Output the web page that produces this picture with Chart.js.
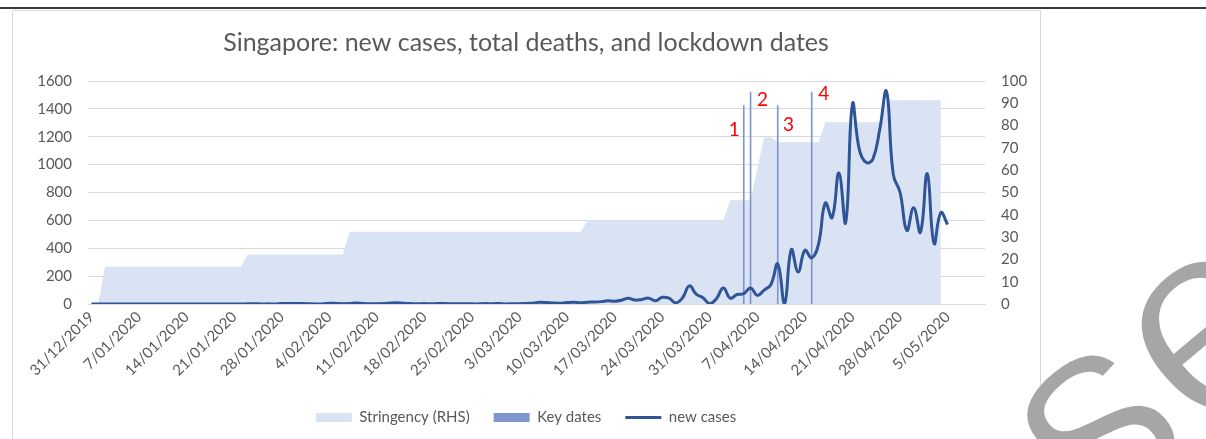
<!DOCTYPE html>
<html>
<head>
<meta charset="utf-8">
<title>Singapore: new cases, total deaths, and lockdown dates</title>
<script src="https://cdn.jsdelivr.net/npm/chart.js@4.4.1/dist/chart.umd.min.js"></script>
<style>
  html, body { margin: 0; padding: 0; background: #fff; }
  canvas { display: block; }
</style>
</head>
<body>
<canvas id="chart" width="1206" height="439"></canvas>
<script>
// data
const startDate = [2019, 11, 31];   // 31/12/2019, one category per day
const dayCount = 132;               // axis runs a few days past the data

const newCases = [
    0, 0, 0, 0, 0, 0, 0, 0, 0, 0, 0, 0, 0, 0, 0, 0, 0, 0, 0, 0, 0, 0, 0,
    1, 2, 0, 1, 0, 3, 3, 3, 3, 2, 0, 0, 6, 4, 2, 3, 7, 3, 2, 2, 3, 8, 9, 5,
    3, 2, 3, 1, 3, 3, 1, 2, 1, 1, 1, 3, 2, 4, 0, 2, 2, 4, 6, 12, 10, 7, 6,
    10, 12, 9, 13, 14, 17, 23, 20, 27, 42, 28, 33, 42, 24, 48, 42, 8, 45,
    130, 70, 45, 2, 40, 115, 42, 68, 75, 115, 62, 100, 140, 287, 0, 390,
    230, 385, 330, 430, 725, 620, 940, 585, 1435, 1110, 1016, 1040, 1250,
    1525, 930, 800, 528, 690, 515, 935, 435, 655, 570
];

const stringency = [
    0, 0,
    16.67, 16.67, 16.67, 16.67, 16.67, 16.67, 16.67, 16.67, 16.67, 16.67, 16.67,
    16.67, 16.67, 16.67, 16.67, 16.67, 16.67, 16.67, 16.67, 16.67, 16.67,
    22.22, 22.22, 22.22, 22.22, 22.22, 22.22, 22.22, 22.22, 22.22, 22.22,
    22.22, 22.22, 22.22, 22.22, 22.22,
    32.41, 32.41, 32.41, 32.41, 32.41, 32.41, 32.41, 32.41, 32.41, 32.41,
    32.41, 32.41, 32.41, 32.41, 32.41, 32.41, 32.41, 32.41, 32.41, 32.41,
    32.41, 32.41, 32.41, 32.41, 32.41, 32.41, 32.41, 32.41, 32.41, 32.41,
    32.41, 32.41, 32.41, 32.41, 32.41,
    37.5, 37.5, 37.5, 37.5, 37.5, 37.5, 37.5, 37.5, 37.5, 37.5, 37.5,
    37.5, 37.5, 37.5, 37.5, 37.5, 37.5, 37.5, 37.5, 37.5, 37.5,
    46.5, 46.5, 46.5, 46.5,
    60.8,
    74.8, 74.8,
    72.5, 72.5, 72.5, 72.5, 72.5, 72.5, 72.5,
    81.5, 81.5, 81.5, 81.5, 81.5, 81.5, 81.5, 81.5, 81.5,
    91.4, 91.4, 91.4, 91.4, 91.4, 91.4, 91.4, 91.4, 91.4
];

// key dates: day index from 31/12/2019 and bar height on the right axis
const keyDateDays = [96, 97, 101, 106];
const keyDateHeights = [89, 95, 89, 95];
const keyDateNames = ['1', '2', '3', '4'];

const leftTicks = [0, 1600, 200];
const rightTicks = [0, 100, 10];

// category labels d/mm/yyyy
const labels = [];
for (let i = 0; i < dayCount; i++) {
    const d = new Date(startDate[0], startDate[1], startDate[2] + i);
    labels.push(d.getDate() + '/' + String(d.getMonth() + 1).padStart(2, '0') + '/' + d.getFullYear());
}

const keyDates = labels.map(() => null);
keyDateDays.forEach((day, i) => { keyDates[day] = keyDateHeights[i]; });

const grey = '#595959';
const font = 'Lato';

// white page, top rule and chart frame
const framePlugin = {
    id: 'frame',
    beforeDraw(chart) {
        const c = chart.ctx;
        c.save();
        c.fillStyle = '#fff';
        c.fillRect(0, 0, chart.width, chart.height);
        c.strokeStyle = '#d9d9d9';
        c.lineWidth = 1;
        c.beginPath();
        c.moveTo(12.5, chart.height);
        c.lineTo(12.5, 10.5);
        c.lineTo(1040.5, 10.5);
        c.lineTo(1040.5, chart.height);
        c.stroke();
        c.strokeStyle = '#3a3a3a';
        c.lineWidth = 2;
        c.beginPath();
        c.moveTo(0, 8);
        c.lineTo(chart.width, 8);
        c.stroke();
        c.restore();
    },
    afterDraw(chart) {
        // grey watermark, thinned on its own layer
        const layer = document.createElement('canvas');
        layer.width = chart.width;
        layer.height = chart.height;
        const w = layer.getContext('2d');
        w.translate(1094, 532);
        w.rotate(-40 * Math.PI / 180);
        w.font = '280px "Liberation Sans"';
        w.fillStyle = '#a6a6a6';
        w.fillText('se', 0, 0);
        w.globalCompositeOperation = 'destination-out';
        w.lineWidth = 5;
        w.strokeText('se', 0, 0);
        chart.ctx.drawImage(layer, 0, 0);
    }
};

// red numbers beside the key-date lines
const keyLabelPlugin = {
    id: 'keyLabels',
    afterDatasetsDraw(chart, args, opts) {
        const c = chart.ctx;
        const xs = chart.scales.x, ys = chart.scales.y1;
        c.save();
        c.fillStyle = '#ff0000';
        c.font = '19px ' + font;
        c.textAlign = 'center';
        c.textBaseline = 'middle';
        keyDateDays.forEach((day, i) => {
            const x = xs.getPixelForValue(day) + opts.dx[i];
            const y = ys.getPixelForValue(opts.at[i]);
            c.fillText(keyDateNames[i], x, y);
        });
        c.restore();
    }
};

new Chart(document.getElementById('chart'), {
    data: {
        labels: labels,
        datasets: [{
            type: 'line',
            label: 'new cases',
            data: newCases,
            yAxisID: 'y',
            borderColor: '#2f5597',
            backgroundColor: '#2f5597',
            borderWidth: 3,
            pointRadius: 0,
            pointStyle: 'line',
            tension: 0.45,
            order: 0
        }, {
            type: 'bar',
            label: 'Key dates',
            data: keyDates,
            yAxisID: 'y1',
            backgroundColor: '#8096cf',
            borderWidth: 0,
            barThickness: 1,
            pointStyle: 'rect',
            order: 1
        }, {
            type: 'line',
            label: 'Stringency (RHS)',
            data: stringency,
            yAxisID: 'y1',
            borderWidth: 0,
            borderColor: 'rgba(0,0,0,0)',
            backgroundColor: '#dae3f3',
            fill: 'origin',
            pointRadius: 0,
            pointStyle: 'rect',
            tension: 0,
            order: 2
        }]
    },

    options: {
        responsive: false,
        animation: false,
        devicePixelRatio: 1,
        layout: {
            padding: { left: 12, right: 166, top: 10, bottom: 4 }
        },
        plugins: {
            title: {
                display: true,
                text: 'Singapore: new cases, total deaths, and lockdown dates',
                color: grey,
                font: { family: font, size: 25, weight: 'normal' },
                padding: { top: 18, bottom: 23 }
            },
            legend: {
                position: 'bottom',
                reverse: true,
                labels: {
                    usePointStyle: true,
                    pointStyleWidth: 36,
                    boxHeight: 9,
                    padding: 24,
                    color: grey,
                    font: { family: font, size: 15 }
                }
            },
            tooltip: { enabled: false },
            keyLabels: {
                dx: [-9.5, 12, 10.7, 12],
                at: [78, 91.4, 80.4, 94.1]
            }
        },
        scales: {
            x: {
                type: 'category',
                offset: true,
                grid: { display: false, drawTicks: false },
                border: { display: true, color: '#d9d9d9' },
                ticks: {
                    autoSkip: false,
                    minRotation: 45,
                    maxRotation: 45,
                    padding: 4,
                    color: grey,
                    font: { family: font, size: 15 },
                    callback: (v, i) => (i % 7 === 0 ? labels[i] : '')
                },
                afterFit: s => { s.height = 82; }
            },
            y: {
                position: 'left',
                min: leftTicks[0],
                max: leftTicks[1],
                grid: { color: '#d9d9d9', drawTicks: false },
                border: { display: false },
                ticks: {
                    stepSize: leftTicks[2],
                    padding: 16,
                    color: grey,
                    font: { family: font, size: 15 },
                    callback: v => String(v)
                },
                afterFit: s => { s.width = 76; }
            },
            y1: {
                position: 'right',
                min: rightTicks[0],
                max: rightTicks[1],
                grid: { display: false, drawTicks: false },
                border: { display: false },
                ticks: {
                    stepSize: rightTicks[2],
                    padding: 16,
                    color: grey,
                    font: { family: font, size: 15 }
                },
                afterFit: s => { s.width = 55; }
            }
        }
    },
    plugins: [framePlugin, keyLabelPlugin]
});
</script>
</body>
</html>
